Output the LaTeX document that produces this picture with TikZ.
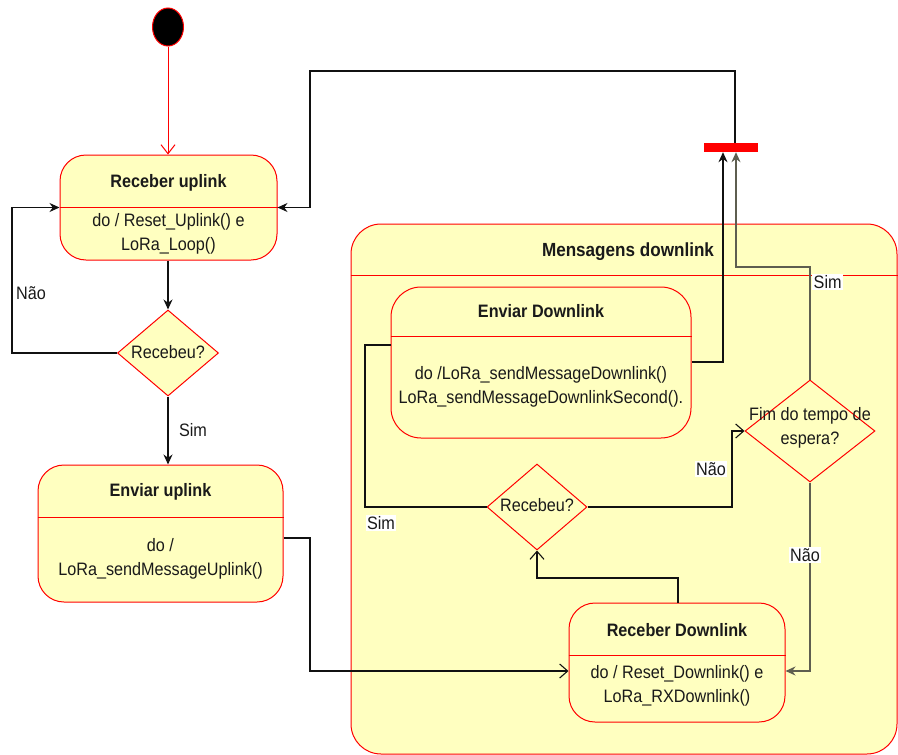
\documentclass[tikz,border=0pt]{standalone}
\usepackage{fontspec}
\setmainfont{Liberation Sans}[FakeStretch=0.9]
\usetikzlibrary{shapes.geometric,arrows.meta}
\definecolor{statefill}{HTML}{FFFFC0}
\definecolor{statered}{HTML}{FF0000}
\definecolor{ink}{HTML}{1A1A1A}
\definecolor{wire}{HTML}{111111}
\definecolor{wiregray}{HTML}{5E5E50}

\begin{document}
\begin{tikzpicture}[x=1pt,y=-1pt,
  font=\fontsize{18}{24}\selectfont,
  statebox/.style={draw=statered, fill=statefill, rounded corners=26pt, line width=1pt, inner sep=0},
  regionbox/.style={draw=statered, fill=statefill, rounded corners=30pt, line width=1pt, inner sep=0},
  choice/.style={diamond, draw=statered, fill=statefill, line width=1pt, inner sep=0},
  divider/.style={draw=statered, line width=1pt},
  txt/.style={align=center, inner sep=0, text=ink},
  ttl/.style={txt, font=\fontsize{18}{24}\selectfont\bfseries},
  lbl/.style={fill=white, inner sep=1.5pt, text=ink},
  flow/.style={draw=wire, line width=1.2pt, -{Stealth[length=10pt,width=9pt]}},
  flowopen/.style={draw=wire, line width=1.2pt, -{Straight Barb[length=8pt,width=14pt,line width=1.1pt]}},
  flowplain/.style={draw=wire, line width=1.2pt},
  flowgray/.style={draw=wiregray, line width=1.2pt, -{Stealth[length=10pt,width=9pt]}},
]
\useasboundingbox (0,0) rectangle (898,755);

% ---------- uplink side ----------
\node[ellipse, draw=statered, fill=black, line width=1pt, minimum width=31, minimum height=38, inner sep=0] (init) at (168,27) {};

\node[statebox, minimum width=217, minimum height=105] (ru) at (168.5,207.5) {};
\draw[divider] (ru.west |- 0,207) -- (ru.east |- 0,207);
\node[ttl] (ruT) at (168.5,183) {Receber uplink};
\node[txt] (ruB) at (168.5,234) {do / Reset\_Uplink() e\\LoRa\_Loop()};

\node[choice, minimum width=101, minimum height=86] (d1) at (168,353) {};
\node[txt] (d1T) at (168,352) {Recebeu?};

\node[statebox, minimum width=245, minimum height=137] (eu) at (160.5,533.5) {};
\draw[divider] (eu.west |- 0,517) -- (eu.east |- 0,517);
\node[ttl] (euT) at (160.5,492) {Enviar uplink};
\node[txt] (euB) at (160.5,559) {do /\\LoRa\_sendMessageUplink()};

% ---------- join bar ----------
\node[fill=statered, minimum width=54, minimum height=9, inner sep=0] (bar) at (731,147.5) {};

% ---------- downlink region ----------
\node[regionbox, minimum width=546, minimum height=530] (md) at (624,489) {};
\draw[divider] (md.west |- 0,275) -- (md.east |- 0,275);
\node[ttl, font=\fontsize{19}{24}\selectfont\bfseries] (mdT) at (628,252) {Mensagens downlink};

\node[statebox, rounded corners=30pt, minimum width=300, minimum height=151] (ed) at (541,362.5) {};
\draw[divider] (ed.west |- 0,336) -- (ed.east |- 0,336);
\node[ttl] (edT) at (541,311) {Enviar Downlink};
\node[txt] (edB) at (541,387) {do /LoRa\_sendMessageDownlink()\\LoRa\_sendMessageDownlinkSecond().};

\node[choice, minimum width=130, minimum height=102] (fim) at (810,431) {};
\node[txt] (fimT) at (810,428) {Fim do tempo de\\espera?};

\node[choice, minimum width=100, minimum height=86] (d2) at (537,507) {};
\node[txt] (d2T) at (537,505) {Recebeu?};

\node[statebox, minimum width=216, minimum height=119] (rd) at (677,662.5) {};
\draw[divider] (rd.west |- 0,655) -- (rd.east |- 0,655);
\node[ttl] (rdT) at (677,630) {Receber Downlink};
\node[txt] (rdB) at (677,686) {do / Reset\_Downlink() e\\LoRa\_RXDownlink()};

% ---------- transitions ----------
\draw[draw=statered, line width=1pt, -{Straight Barb[length=9pt,width=14pt,line width=1pt]}] (init.south) -- (init.south |- ru.north);
\draw[flow] (d1.north |- ru.south) -- (d1.north);
\draw[flow] (d1.west) -- (12,353) |- (ru.west);
\node[lbl, fill=none] (nao1) at (31,293) {Não};
\draw[flow] (d1.south) -- (d1.south |- eu.north);
\node[lbl, fill=none] (sim1) at (193,430) {Sim};

\draw[flow] (bar.north -| 735,0) |- (310,71) |- (ru.east);
\draw[flowopen] (eu.east |- 0,538) -- (310,538) |- (rd.west |- 0,671);

\draw[flow] (ed.east |- 0,362) -| (bar.south -| 723,0);
\draw[flowgray] (fim.north) |- (736,267) -- (bar.south -| 736,0);
\node[lbl, anchor=west] (sim2) at (812,282) {Sim};

\draw[flowopen] (d2.east) -| (732,431) -- (fim.west);
\node[lbl] (nao2) at (711,469) {Não};

\draw[flowplain] (d2.west) -| (365,345) -- (ed.west |- 0,345);
\node[lbl] (sim3) at (381,523) {Sim};

\draw[flowgray] (fim.south) |- (rd.east |- 0,671);
\node[lbl] (nao3) at (805,555) {Não};

\draw[flowopen] (rd.north -| 678,0) |- (537,578) -- (d2.south);
\end{tikzpicture}
\end{document}
